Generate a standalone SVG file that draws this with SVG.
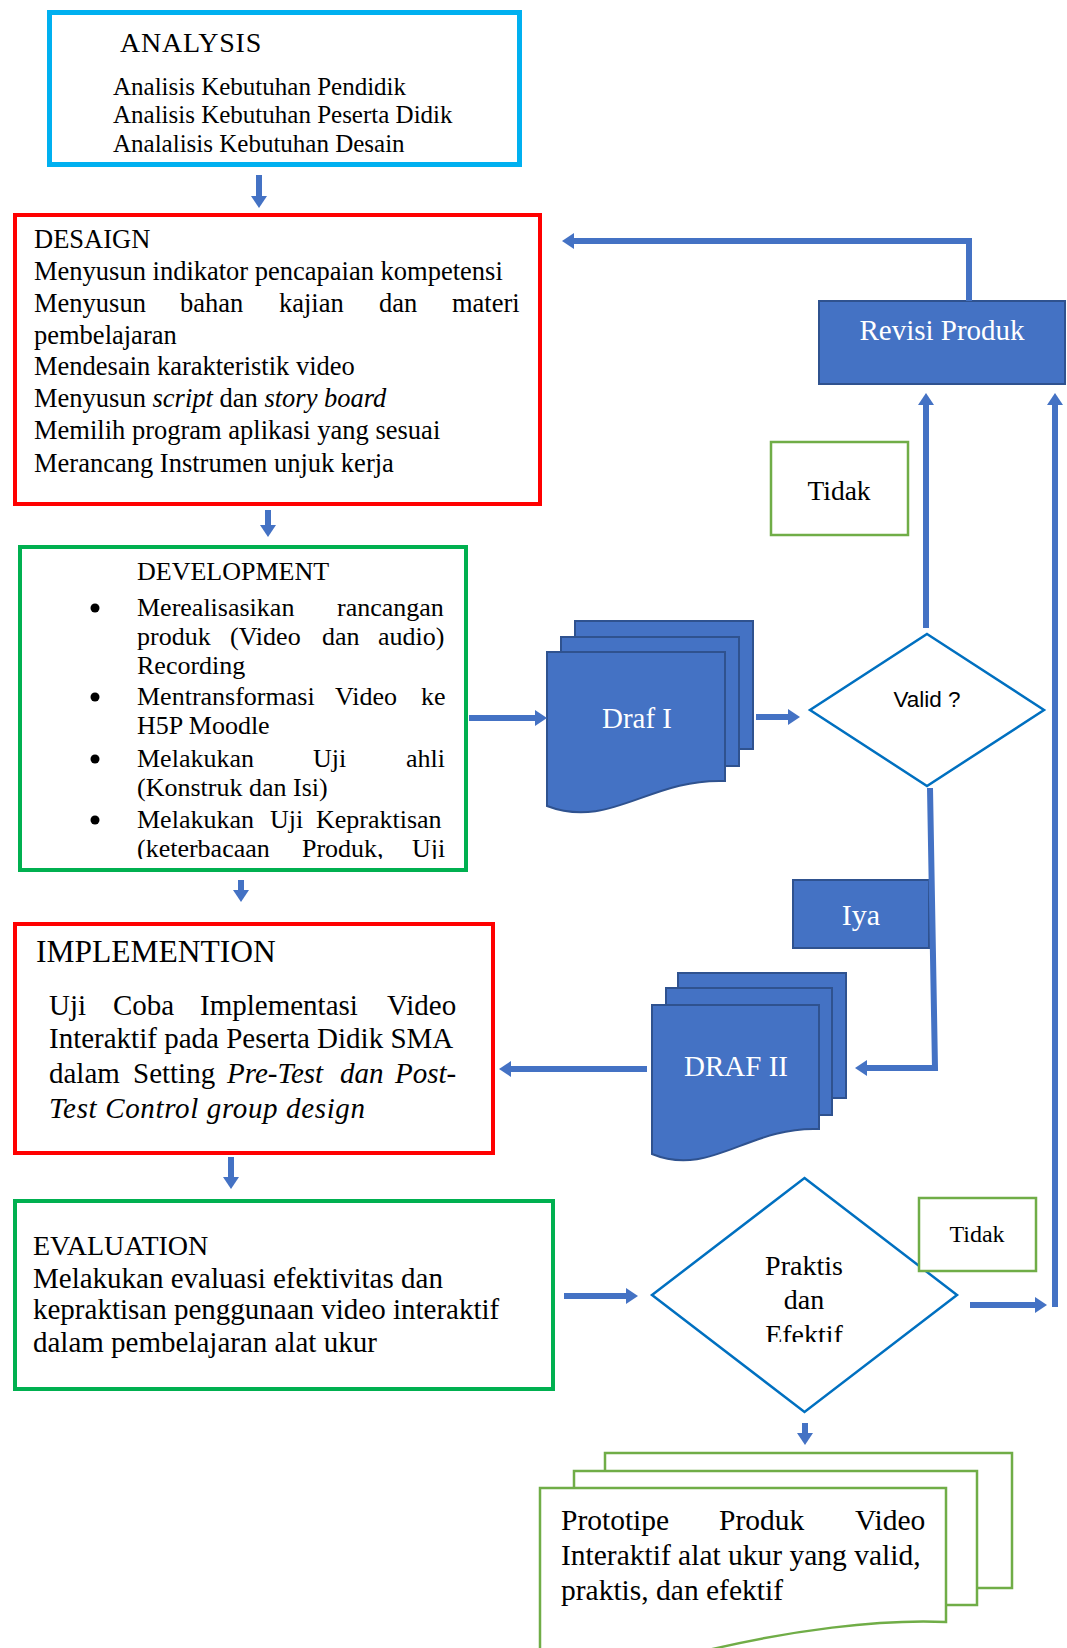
<svg xmlns="http://www.w3.org/2000/svg" width="1067" height="1648" viewBox="0 0 1067 1648">
<defs>
<style>
.t{font-family:"Liberation Serif","Times New Roman",serif;fill:#000}
.w{font-family:"Liberation Serif","Times New Roman",serif;fill:#fff}
.s{font-family:"Liberation Sans",Arial,sans-serif;fill:#000}
.i{font-style:italic}
.con{fill:none;stroke:#4472c4;stroke-width:6}
.blue{fill:#4472c4;stroke:#2f528f;stroke-width:2}
.doc{fill:#fff;stroke:#70ad47;stroke-width:2.5}
.lbl{fill:#fff;stroke:#70ad47;stroke-width:2.5}
.dia{fill:#fff;stroke:#0070c0;stroke-width:2.5}
</style>
<marker id="ah" markerUnits="userSpaceOnUse" markerWidth="12" markerHeight="16" viewBox="0 0 12 16" refX="0" refY="8" orient="auto"><path d="M0,0 L12,8 L0,16 Z" fill="#4472c4"/></marker>
<clipPath id="devclip"><rect x="20" y="547" width="446" height="312"/></clipPath>
<clipPath id="prclip"><rect x="652" y="1178" width="305" height="164"/></clipPath>
</defs>
<rect width="1067" height="1648" fill="#fff"/>

<g id="analysis">
<rect x="49.5" y="12.5" width="470" height="152" fill="#fff" stroke="#00b0f0" stroke-width="5"/>
<text class="t" x="120" y="52" font-size="28" letter-spacing="0.8">ANALYSIS</text>
<text class="t" font-size="25"><tspan x="113" y="95">Analisis Kebutuhan Pendidik</tspan><tspan x="113" y="123">Analisis Kebutuhan Peserta Didik</tspan><tspan x="113" y="152">Analalisis Kebutuhan Desain</tspan></text>
</g>

<g id="design">
<rect x="15" y="215" width="525" height="289" fill="#fff" stroke="#ff0000" stroke-width="4"/>
<text class="t" font-size="26.5">
<tspan x="34" y="248">DESAIGN</tspan>
<tspan x="34" y="280">Menyusun indikator pencapaian kompetensi</tspan>
<tspan x="34" y="312">Menyusun</tspan><tspan x="180" y="312">bahan</tspan><tspan x="279" y="312">kajian</tspan><tspan x="379" y="312">dan</tspan><tspan x="452" y="312">materi</tspan>
<tspan x="34" y="344">pembelajaran</tspan>
<tspan x="34" y="375">Mendesain karakteristik video</tspan>
<tspan x="34" y="407">Menyusun <tspan class="i">script</tspan> dan <tspan class="i">story board</tspan></tspan>
<tspan x="34" y="439">Memilih program aplikasi yang sesuai</tspan>
<tspan x="34" y="472">Merancang Instrumen unjuk kerja</tspan>
</text>
</g>

<g id="development">
<rect x="20" y="547" width="446" height="323" fill="#fff" stroke="#00b050" stroke-width="4"/>
<g fill="#000"><circle cx="95" cy="608" r="4.5"/><circle cx="95" cy="697" r="4.5"/><circle cx="95" cy="759" r="4.5"/><circle cx="95" cy="820" r="4.5"/></g>
<text class="t" font-size="26" clip-path="url(#devclip)">
<tspan x="137" y="580">DEVELOPMENT</tspan>
<tspan x="137" y="616">Merealisasikan</tspan><tspan x="337" y="616">rancangan</tspan>
<tspan x="137" y="645">produk</tspan><tspan x="230" y="645">(Video</tspan><tspan x="322" y="645">dan</tspan><tspan x="378" y="645">audio)</tspan>
<tspan x="137" y="674">Recording</tspan>
<tspan x="137" y="705">Mentransformasi</tspan><tspan x="335" y="705">Video</tspan><tspan x="421" y="705">ke</tspan>
<tspan x="137" y="734">H5P Moodle</tspan>
<tspan x="137" y="767">Melakukan</tspan><tspan x="313" y="767">Uji</tspan><tspan x="406" y="767">ahli</tspan>
<tspan x="137" y="796">(Konstruk dan Isi)</tspan>
<tspan x="137" y="828">Melakukan</tspan><tspan x="270" y="828">Uji</tspan><tspan x="316" y="828">Kepraktisan</tspan>
<tspan x="137" y="857">(keterbacaan</tspan><tspan x="302" y="857">Produk,</tspan><tspan x="412" y="857">Uji</tspan>
</text>
</g>

<g id="implementation">
<rect x="15" y="924" width="478" height="229" fill="#fff" stroke="#ff0000" stroke-width="4"/>
<text class="t" x="36" y="962" font-size="31.5">IMPLEMENTION</text>
<text class="t" font-size="29">
<tspan x="49" y="1015">Uji</tspan><tspan x="113" y="1015">Coba</tspan><tspan x="200" y="1015">Implementasi</tspan><tspan x="387" y="1015">Video</tspan>
<tspan x="49" y="1048">Interaktif pada Peserta Didik SMA</tspan>
<tspan x="49" y="1083">dalam</tspan><tspan x="133" y="1083">Setting</tspan><tspan class="i" x="227" y="1083">Pre-Test</tspan><tspan class="i" x="340" y="1083">dan</tspan><tspan class="i" x="395" y="1083">Post-</tspan>
</text>
<text class="t i" x="49" y="1118" font-size="29" textLength="316" lengthAdjust="spacing">Test Control group design</text>
</g>

<g id="evaluation">
<rect x="15" y="1201" width="538" height="188" fill="#fff" stroke="#00b050" stroke-width="4"/>
<text class="t" x="33" y="1255" font-size="28">EVALUATION</text>
<text class="t" font-size="29"><tspan x="33" y="1288">Melakukan evaluasi efektivitas dan</tspan><tspan x="33" y="1319">kepraktisan penggunaan video interaktif</tspan><tspan x="33" y="1352">dalam pembelajaran alat ukur</tspan></text>
</g>

<g id="revisi">
<rect class="blue" x="819" y="301" width="246" height="83"/>
<text class="w" x="942" y="340" font-size="29" text-anchor="middle">Revisi Produk</text>
</g>

<g id="tidak1">
<rect class="lbl" x="771" y="442" width="137" height="93"/>
<text class="t" x="839" y="500" font-size="27.5" text-anchor="middle">Tidak</text>
</g>

<g id="draf1">
<rect class="blue" x="575" y="621" width="178" height="128"/>
<rect class="blue" x="561" y="637" width="178" height="129"/>
<path class="blue" d="M547,652 H725 V781 C650,778 610,830 547,806 Z"/>
<text class="w" x="637" y="728" font-size="29" text-anchor="middle">Draf I</text>
</g>

<g id="valid">
<polygon class="dia" points="927,634 1044,710 927,786 810,710"/>
<text class="s" x="927" y="707" font-size="22.5" text-anchor="middle">Valid ?</text>
</g>

<g id="iya">
<rect class="blue" x="793" y="880" width="136" height="68"/>
<text class="w" x="861" y="925" font-size="30" text-anchor="middle">Iya</text>
</g>

<g id="draf2">
<rect class="blue" x="678" y="973" width="168" height="125"/>
<rect class="blue" x="666" y="988" width="166" height="127"/>
<path class="blue" d="M652,1005 H819 V1129 C749,1126 710,1178 652,1154 Z"/>
<text class="w" x="736" y="1076" font-size="29" text-anchor="middle">DRAF II</text>
</g>

<g id="praktis">
<polygon class="dia" points="804.5,1178 957,1295 804.5,1412 652,1295"/>
<text class="t" font-size="28" text-anchor="middle" clip-path="url(#prclip)"><tspan x="804" y="1275">Praktis</tspan><tspan x="804" y="1309">dan</tspan><tspan x="804" y="1344">Efektif</tspan></text>
</g>

<g id="tidak2">
<rect class="lbl" x="919" y="1198" width="117" height="73"/>
<text class="t" x="977" y="1242" font-size="24" text-anchor="middle">Tidak</text>
</g>

<g id="prototipe">
<rect class="doc" x="605" y="1453" width="407" height="135"/>
<rect class="doc" x="574" y="1471" width="403" height="134"/>
<path class="doc" d="M540,1488 H946 V1622 C880,1619 790,1630 700,1652 L540,1690 Z"/>
<text class="t" font-size="29.5">
<tspan x="561" y="1530">Prototipe</tspan><tspan x="719" y="1530">Produk</tspan><tspan x="855" y="1530">Video</tspan>
<tspan x="561" y="1565">Interaktif alat ukur yang valid,</tspan>
<tspan x="561" y="1600">praktis, dan efektif</tspan>
</text>
</g>

<g id="connectors">
<line class="con" x1="259" y1="175" x2="259" y2="196" marker-end="url(#ah)"/>
<line class="con" x1="268" y1="510" x2="268" y2="525" marker-end="url(#ah)"/>
<line class="con" x1="241" y1="880" x2="241" y2="890" marker-end="url(#ah)"/>
<line class="con" x1="231" y1="1157" x2="231" y2="1177" marker-end="url(#ah)"/>
<polyline class="con" points="969,301 969,241 574,241" marker-end="url(#ah)"/>
<line class="con" x1="469" y1="718" x2="535" y2="718" marker-end="url(#ah)"/>
<line class="con" x1="756" y1="717" x2="788" y2="717" marker-end="url(#ah)"/>
<line class="con" x1="926" y1="628" x2="926" y2="405" marker-end="url(#ah)"/>
<line class="con" x1="1055" y1="1307" x2="1055" y2="405" marker-end="url(#ah)"/>
<polyline class="con" points="930,788 935,1068 867,1068" marker-end="url(#ah)"/>
<line class="con" x1="647" y1="1069" x2="511" y2="1069" marker-end="url(#ah)"/>
<line class="con" x1="564" y1="1296" x2="626" y2="1296" marker-end="url(#ah)"/>
<line class="con" x1="970" y1="1305" x2="1035" y2="1305" marker-end="url(#ah)"/>
<line class="con" x1="805" y1="1423" x2="805" y2="1433" marker-end="url(#ah)"/>
</g>
</svg>
